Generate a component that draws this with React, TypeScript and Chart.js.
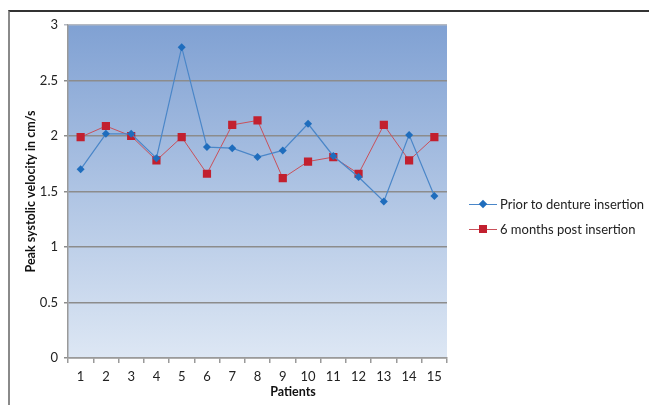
import React, { useEffect, useRef } from "react";
import { Chart, registerables } from "chart.js";

Chart.register(...registerables);

const patients = ["1", "2", "3", "4", "5", "6", "7", "8", "9", "10", "11", "12", "13", "14", "15"];
const priorToInsertion = [1.7, 2.02, 2.02, 1.8, 2.8, 1.9, 1.89, 1.81, 1.87, 2.11, 1.82, 1.63, 1.41, 2.01, 1.46];
const sixMonthsPost = [1.99, 2.09, 2.0, 1.78, 1.99, 1.66, 2.1, 2.14, 1.62, 1.77, 1.81, 1.66, 2.1, 1.78, 1.99];
const seriesNames = ["Prior to denture insertion", "6 months post insertion"];
const yTicks = [0, 0.5, 1, 1.5, 2, 2.5, 3];

const FONT = "Lato, 'Open Sans', sans-serif";

const gradientPlugin = {
  id: "plotGradient",
  beforeDraw(chart: any) {
    const { ctx, chartArea } = chart;
    if (!chartArea) return;
    const g = ctx.createLinearGradient(0, chartArea.top, 0, chartArea.bottom);
    g.addColorStop(0, "#80a1d3");
    g.addColorStop(1, "#dde7f4");
    ctx.save();
    ctx.fillStyle = g;
    ctx.fillRect(chartArea.left, chartArea.top, chartArea.right - chartArea.left, chartArea.bottom - chartArea.top);
    ctx.restore();
  },
};

export default function App() {
  const ref = useRef<HTMLCanvasElement | null>(null);

  useEffect(() => {
    if (!ref.current) return;
    const chart = new Chart(ref.current, {
      type: "line",
      data: {
        labels: patients,
        datasets: [
          {
            label: seriesNames[0],
            data: priorToInsertion,
            borderColor: "#4a86c8",
            backgroundColor: "#1f6dbd",
            borderWidth: 1.2,
            pointStyle: "rectRot",
            pointRadius: 4,
            pointBorderWidth: 0,
            pointBackgroundColor: "#1f6dbd",
            tension: 0,
          },
          {
            label: seriesNames[1],
            data: sixMonthsPost,
            borderColor: "#c9505a",
            backgroundColor: "#c2202f",
            borderWidth: 1,
            pointStyle: "rect",
            pointRadius: 5.8,
            pointBorderWidth: 0,
            pointBackgroundColor: "#c2202f",
            tension: 0,
          },
        ],
      },
      options: {
        animation: false,
        responsive: false,
        maintainAspectRatio: false,
        layout: { padding: { left: 0, right: 202, top: 25, bottom: 0 } },
        plugins: { legend: { display: false }, tooltip: { enabled: false } },
        scales: {
          x: {
            type: "category",
            offset: true,
            grid: {
              offset: true,
              drawOnChartArea: false,
              drawTicks: true,
              tickLength: 5,
              color: "#9a9a9a",
              lineWidth: 1.5,
            },
            border: { color: "#9a9a9a", width: 1.5 },
            ticks: { color: "#222", padding: 6, font: { family: FONT, size: 13 } },
            afterFit(scale: any) {
              scale.height = 47;
            },
          },
          y: {
            min: 0,
            max: 3,
            afterBuildTicks(scale: any) {
              scale.ticks = yTicks.map((v) => ({ value: v }));
            },
            grid: {
              color: (c: any) => (c.tick && c.tick.value === 3 ? "#b4b9c2" : "#8c8c8c"),
              lineWidth: 1.5,
              drawTicks: true,
              tickLength: 4,
            },
            border: { color: "#9a9a9a", width: 1.5 },
            ticks: {
              color: "#222",
              padding: 6,
              font: { family: FONT, size: 13 },
              callback: (v: any) => String(Number(v)),
            },
            title: {
              display: true,
              text: "Peak systolic velocity in cm/s",
              color: "#111",
              font: { family: FONT, size: 12.5, weight: "bold" },
              padding: { top: 23, bottom: 0 },
            },
            afterFit(scale: any) {
              scale.width = 68;
            },
          },
        },
      },
      plugins: [gradientPlugin],
    });
    return () => chart.destroy();
  }, []);

  const legendRow = (i: number, top: number) => (
    <div style={{ position: "absolute", left: 469, top: top - 9, height: 18, display: "flex", alignItems: "center" }}>
      <div style={{ position: "relative", width: 28, height: 18 }}>
        <div
          style={{
            position: "absolute",
            left: 0,
            top: 8.5,
            width: 28,
            height: i === 0 ? 1.3 : 1,
            background: i === 0 ? "#4a86c8" : "#c9505a",
          }}
        />
        {i === 0 ? (
          <div
            style={{
              position: "absolute",
              left: 11,
              top: 6,
              width: 6,
              height: 6,
              background: "#1f6dbd",
              transform: "rotate(45deg)",
            }}
          />
        ) : (
          <div style={{ position: "absolute", left: 10, top: 5, width: 8, height: 8, background: "#c2202f" }} />
        )}
      </div>
      <span style={{ marginLeft: 3, fontFamily: FONT, fontSize: 13, color: "#222", whiteSpace: "nowrap" }}>
        {seriesNames[i]}
      </span>
    </div>
  );

  return (
    <div style={{ position: "fixed", left: 0, top: 0, width: 649, height: 405, background: "#fff", overflow: "hidden" }}>
      <div
        style={{
          position: "absolute",
          left: 8,
          top: 10,
          width: 700,
          height: 500,
          borderTop: "2px solid #333",
          borderLeft: "2px solid #8a8a8a",
        }}
      />
      <canvas ref={ref} width={649} height={405} style={{ position: "absolute", left: 0, top: 0, width: 649, height: 405 }} />
      {legendRow(0, 204)}
      {legendRow(1, 229)}
      <div
        style={{
          position: "absolute",
          left: 243,
          top: 384,
          width: 100,
          textAlign: "center",
          fontFamily: FONT,
          fontSize: 12.5,
          fontWeight: "bold",
          color: "#111",
        }}
      >
        Patients
      </div>
    </div>
  );
}
